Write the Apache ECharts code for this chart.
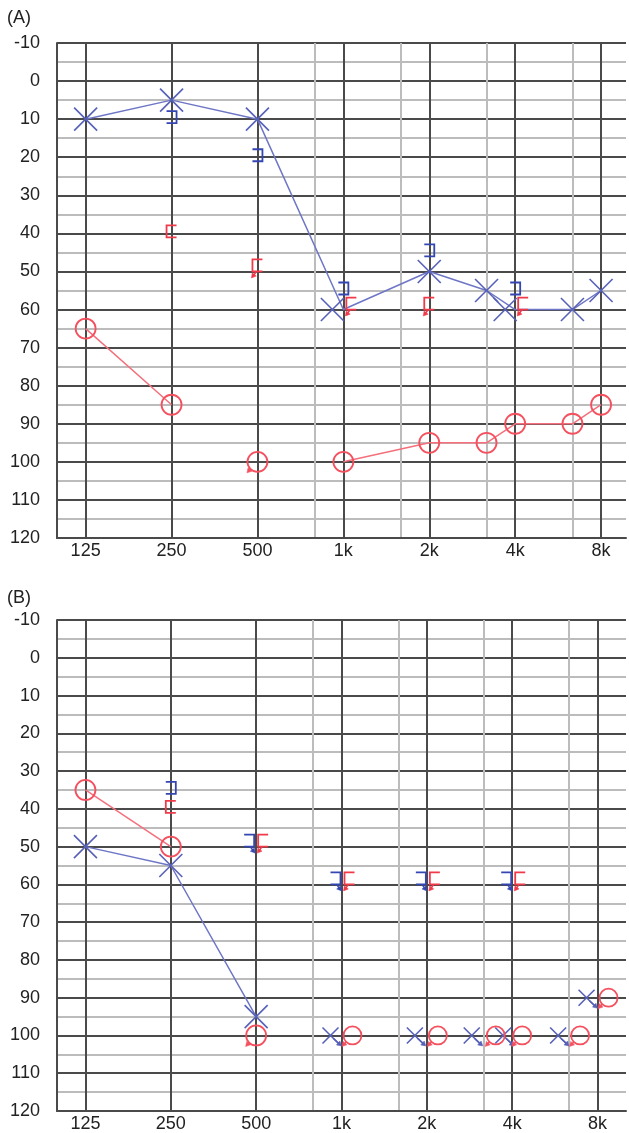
<!DOCTYPE html>
<html><head><meta charset="utf-8">
<script src="https://cdn.jsdelivr.net/npm/echarts@6/dist/echarts.min.js"></script>
<style>html,body{margin:0;padding:0;background:#fff}#c{width:629px;height:1133px}</style>
</head><body><div id="c"></div>
<script>
// ---------- tick labels / scale ----------
const freqTickLabels = ['125', '250', '500', '1k', '2k', '4k', '8k'];
const dbTickLabels = ['-10','0','10','20','30','40','50','60','70','80','90','100','110','120'];
// frequency -> audiogram axis position (third-octave steps, half-octaves drawn at 2/3)
const freqPos = {125:0, 250:3, 500:6, 750:8, 1000:9, 1500:11, 2000:12, 3000:14, 4000:15, 6000:17, 8000:18};
const octaveGridFreqs = [125, 250, 500, 1000, 2000, 4000, 8000];
const interOctaveGridFreqs = [750, 1500, 3000, 6000];

// ---------- Panel A data ----------
const aAirFreqs = [125, 250, 500, 1000, 2000, 3000, 4000, 6000, 8000];
const aLeftAir = [10, 5, 10, 60, 50, 55, 60, 60, 55];
const aLeftAirNR = [0, 0, 0, 0, 0, 0, 0, 0, 0];
const aRightAir = [65, 85, 100, 100, 95, 95, 90, 90, 85];
const aRightAirNR = [0, 0, 1, 0, 0, 0, 0, 0, 0];
const aBoneFreqs = [250, 500, 1000, 2000, 4000];
const aLeftBone = [10, 20, 55, 45, 55];
const aLeftBoneNR = [0, 0, 0, 0, 0];
const aRightBone = [40, 50, 60, 60, 60];
const aRightBoneNR = [0, 1, 1, 1, 1];

// ---------- Panel B data ----------
const bAirFreqs = [125, 250, 500, 1000, 2000, 3000, 4000, 6000, 8000];
const bLeftAir = [50, 55, 95, 100, 100, 100, 100, 100, 90];
const bLeftAirNR = [0, 0, 0, 1, 1, 1, 1, 1, 1];
const bRightAir = [35, 50, 100, 100, 100, 100, 100, 100, 90];
const bRightAirNR = [0, 0, 1, 1, 1, 1, 1, 1, 1];
const bBoneFreqs = [250, 500, 1000, 2000, 4000];
const bLeftBone = [35, 50, 60, 60, 60];
const bLeftBoneNR = [0, 1, 1, 1, 1];
const bRightBone = [40, 50, 60, 60, 60];
const bRightBoneNR = [0, 1, 1, 1, 1];

// ---------- symbol display shifts (px, style only) ----------
const aLeftAirShift = [0, 0, 0, -11, 0, 0, -10, 0, 0];
const aRightBoneShift = [0, 0, 8, 0, 8];
const bLeftAirShift = [0, 0, 0, -11, -12, -12, -9, -11, -11];
const bRightAirShift = [0, 0, 0, 11, 11, 12, 10, 11, 11];
const bLeftBoneShift = [0, -7, -6, -6, -6];
const bRightBoneShift = [0, 7, 8, 8, 8];

// ---------- styles ----------
const FONT = 'Liberation Sans, Arial, sans-serif';
const BLUE_X = '#5660b8', BLUE_LINE = '#6e76c6', BLUE_BR = '#3446b2';
const RED_O = '#f4505e', RED_LINE = '#f3707c', RED_BR = '#f03a4a';
const DARK = '#4a4a4a', LIGHT = '#bcbcbc', NONE = 'rgba(0,0,0,0)';

function arrow(tx, ty, dx, dy, color) {
  const L = Math.hypot(dx, dy); const ux = dx / L, uy = dy / L;
  const px = -uy, py = ux;
  const bx = tx - ux * 4.5, by = ty - uy * 4.5;
  return {type:'polygon', shape:{points:[[tx,ty],[bx+px*2.6,by+py*2.6],[bx-px*2.6,by-py*2.6]]},
          style:{fill: color, stroke: color, lineWidth: 0.5}};
}
function seg(x1,y1,x2,y2,color,w){
  return {type:'line', shape:{x1,y1,x2,y2}, style:{stroke:color, lineWidth:w, fill:null}};
}
function drawMark(kind, cx, cy, nr, shifted) {
  const ch = [];
  if (kind === 'X') {
    const s = (nr && shifted) ? 8 : 11.5;
    ch.push(seg(cx-s, cy-s, cx+s, cy+s, BLUE_X, 1.6));
    ch.push(seg(cx-s, cy+s, cx+s, cy-s, BLUE_X, 1.6));
    if (nr) { ch.push(seg(cx+3, cy+3, cx+9, cy+8.5, BLUE_X, 1.5)); ch.push(arrow(cx+11, cy+10.5, 1, 0.9, BLUE_X)); }
  } else if (kind === 'O') {
    const r = (nr && shifted) ? 9 : 10;
    ch.push({type:'circle', shape:{cx, cy, r}, style:{stroke:RED_O, lineWidth:1.8, fill:null}});
    if (nr) { ch.push(seg(cx-r*0.7, cy+r*0.7, cx-8.5, cy+9, RED_O, 1.5)); ch.push(arrow(cx-10.5, cy+11, -0.9, 1, RED_O)); }
  } else if (kind === 'LB') { // left bone "]"
    const c = cy + (nr ? -6 : -2), top = c - 6, bot = c + 6;
    ch.push({type:'polyline', shape:{points:[[cx-5,top],[cx+5,top],[cx+5,bot],[cx-5,bot]]}, style:{stroke:BLUE_BR, lineWidth:1.8, fill:null}});
    if (nr) { ch.push(seg(cx+1, bot, cx+4, bot+4, BLUE_BR, 1.5)); ch.push(arrow(cx+6, bot+6.5, 0.8, 1, BLUE_BR)); }
  } else if (kind === 'RB') { // right bone "["
    const c = cy + (nr ? -6 : -2), top = c - 6, bot = c + 6;
    ch.push({type:'polyline', shape:{points:[[cx+5,top],[cx-5,top],[cx-5,bot],[cx+5,bot]]}, style:{stroke:RED_BR, lineWidth:1.8, fill:null}});
    if (nr) { ch.push(seg(cx-1, bot, cx-4, bot+4, RED_BR, 1.5)); ch.push(arrow(cx-6, bot+6.5, -0.8, 1, RED_BR)); }
  }
  return {type:'group', children: ch};
}

function markSeries(g, freqs, vals, nr, shifts, kind) {
  return {
    type:'custom', xAxisIndex:g, yAxisIndex:g, z:5, silent:true, clip:false,
    data: freqs.map((f,i) => [freqPos[f], vals[i]]),
    renderItem(params, api) {
      const i = params.dataIndex;
      const p = api.coord([api.value(0), api.value(1)]);
      const sh = shifts ? shifts[i] : 0;
      return drawMark(kind, p[0] + sh, p[1], !!(nr && nr[i]), sh !== 0);
    }
  };
}
function lineSeries(g, freqs, vals, nr, color) {
  return {
    type:'line', xAxisIndex:g, yAxisIndex:g, z:3, symbol:'none', silent:true,
    connectNulls:false,
    lineStyle:{color, width:1.5},
    data: freqs.map((f,i) => [freqPos[f], (nr && nr[i]) ? '-' : vals[i]])
  };
}

// vertical grid colours for ticks -1 .. 19 (split lines cycle through this list in order)
function verticalGridColors() {
  const octs = octaveGridFreqs.map(f => freqPos[f]);
  const inter = interOctaveGridFreqs.map(f => freqPos[f]);
  const cols = [];
  for (let v = -1; v <= 19; v++) {
    cols.push(v === -1 || octs.includes(v) ? DARK : inter.includes(v) ? LIGHT : NONE);
  }
  cols.push(NONE);
  return cols;
}

function xAxisCfg(g, max) {
  return {
    type:'value', gridIndex:g, min:-1, max, interval:1,
    axisLine:{show:true, onZero:false, lineStyle:{color:DARK, width:2}},
    axisTick:{show:false},
    axisLabel:{margin:4, fontSize:18, color:'#222', fontFamily:FONT,
      formatter: v => { const r = Math.round(v); return (Math.abs(v-r)<1e-6 && r>=0 && r%3===0 && r/3<freqTickLabels.length) ? freqTickLabels[r/3] : ''; }},
    splitLine:{show:true, lineStyle:{color:verticalGridColors(), width:2}}
  };
}
function yAxisCfg(g) {
  return {
    type:'value', gridIndex:g, min:-10, max:120, interval:5, inverse:true,
    axisLine:{show:true, onZero:false, lineStyle:{color:DARK, width:2}},
    axisTick:{show:false},
    axisLabel:{margin:17, fontSize:18, color:'#222', fontFamily:FONT,
      formatter: v => { const k = (v + 10) / 10; return Number.isInteger(k) ? dbTickLabels[k] : ''; }},
    splitLine:{show:true, lineStyle:{color:[DARK, LIGHT], width:2}}
  };
}

const chart = echarts.init(document.getElementById('c'), null, {renderer:'canvas'});
chart.setOption({
  animation:false,
  backgroundColor:'#fff',
  title:[
    {text:'(A)', left:7, top:9, padding:0, textStyle:{fontSize:18, fontWeight:'normal', color:'#222', fontFamily:FONT}},
    {text:'(B)', left:7, top:589, padding:0, textStyle:{fontSize:18, fontWeight:'normal', color:'#222', fontFamily:FONT}}
  ],
  grid:[
    {left:57, top:43, width:572, height:495},
    {left:57, top:620, width:572, height:495}
  ],
  xAxis:[xAxisCfg(0, 18.87), xAxisCfg(1, 19)],
  yAxis:[yAxisCfg(0), yAxisCfg(1)],
  series:[
    lineSeries(0, aAirFreqs, aLeftAir, aLeftAirNR, BLUE_LINE),
    lineSeries(0, aAirFreqs, aRightAir, aRightAirNR, RED_LINE),
    markSeries(0, aAirFreqs, aLeftAir, aLeftAirNR, aLeftAirShift, 'X'),
    markSeries(0, aAirFreqs, aRightAir, aRightAirNR, null, 'O'),
    markSeries(0, aBoneFreqs, aLeftBone, aLeftBoneNR, null, 'LB'),
    markSeries(0, aBoneFreqs, aRightBone, aRightBoneNR, aRightBoneShift, 'RB'),
    lineSeries(1, bAirFreqs, bLeftAir, bLeftAirNR, BLUE_LINE),
    lineSeries(1, bAirFreqs, bRightAir, bRightAirNR, RED_LINE),
    markSeries(1, bAirFreqs, bLeftAir, bLeftAirNR, bLeftAirShift, 'X'),
    markSeries(1, bAirFreqs, bRightAir, bRightAirNR, bRightAirShift, 'O'),
    markSeries(1, bBoneFreqs, bLeftBone, bLeftBoneNR, bLeftBoneShift, 'LB'),
    markSeries(1, bBoneFreqs, bRightBone, bRightBoneNR, bRightBoneShift, 'RB')
  ]
});
</script></body></html>
